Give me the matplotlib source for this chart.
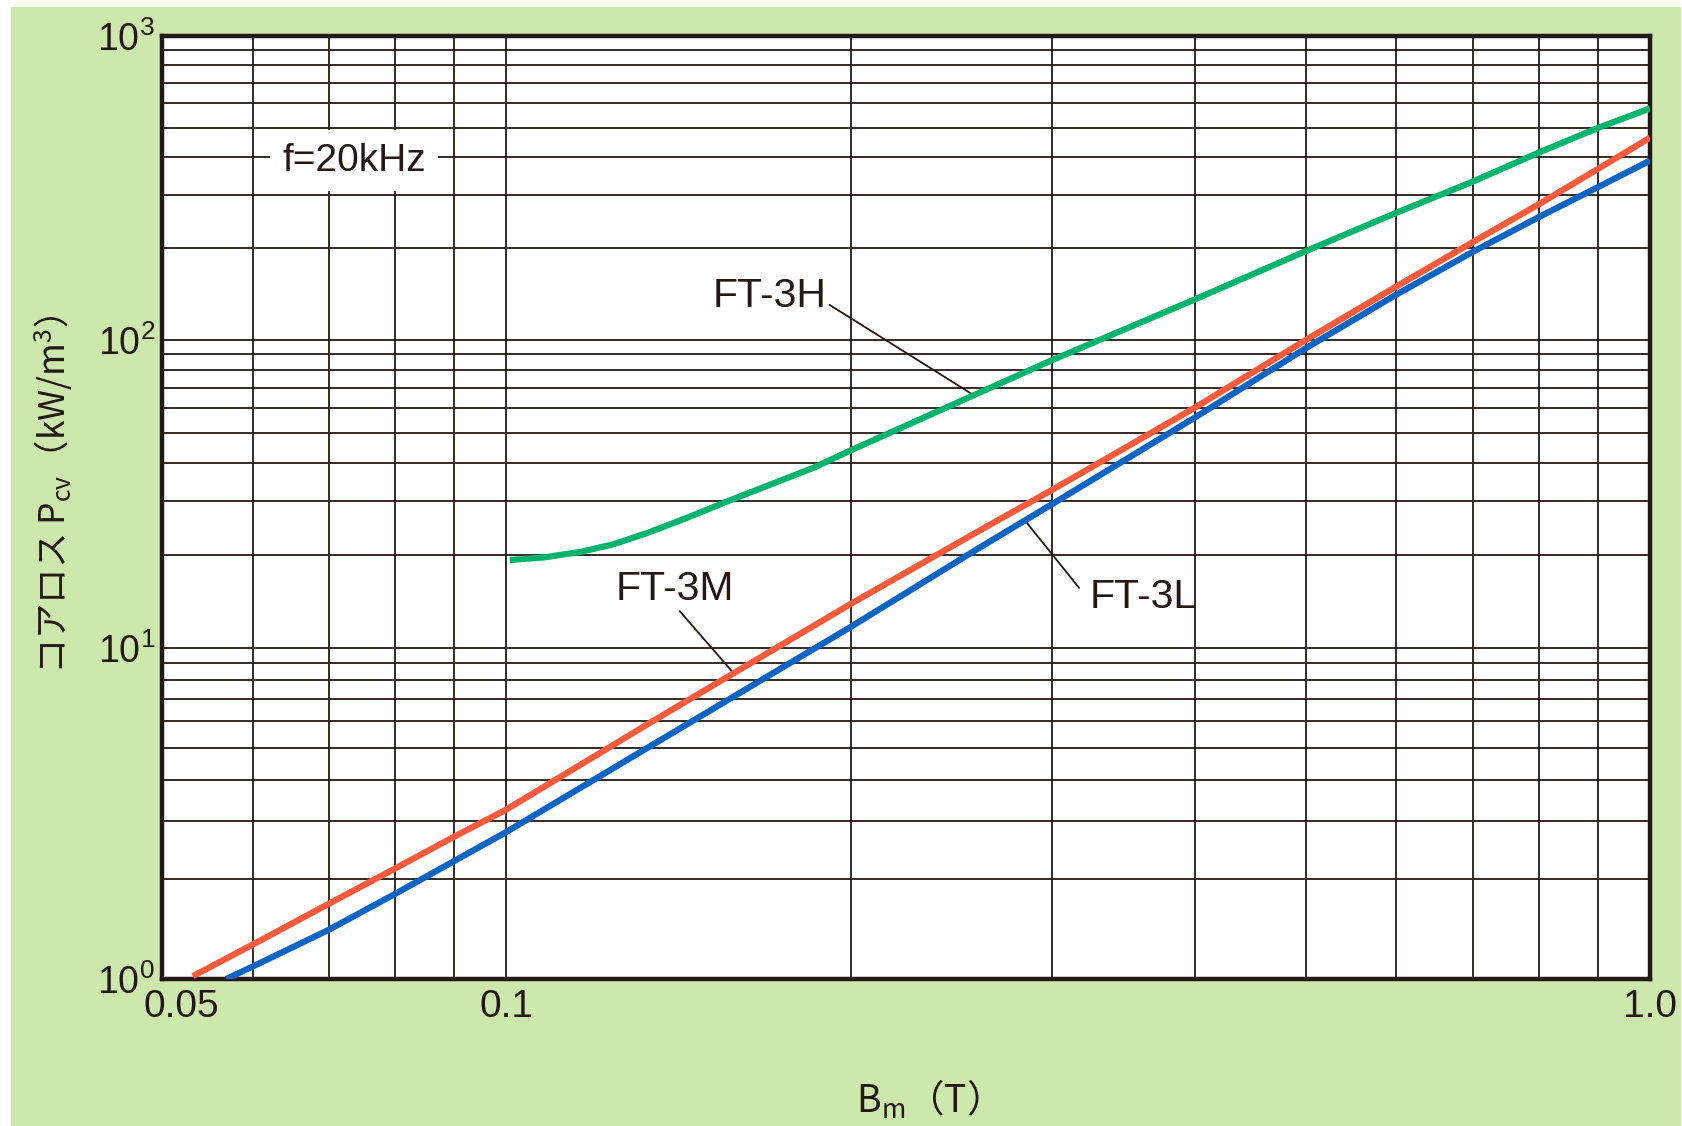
import numpy as np
import matplotlib
matplotlib.use("Agg")
import matplotlib.pyplot as plt
import matplotlib.transforms as mtransforms
from matplotlib.patches import Rectangle
from matplotlib.ticker import NullFormatter

# core loss vs flux density, f = 20 kHz
bm_3m = [0.0532, 0.06, 0.07, 0.08, 0.09, 0.1, 0.1336, 0.2, 0.26, 0.3, 0.4, 0.5, 0.6, 0.7, 0.8, 0.9, 1.0]
pcv_3m = [1.02, 1.27, 1.69, 2.16, 2.69, 3.25, 5.95, 13.9, 24.2, 32.6, 60.3, 100, 150, 210, 280, 365, 463]

bm_3l = [0.0569, 0.06, 0.07, 0.08, 0.09, 0.1, 0.1336, 0.2, 0.26, 0.3, 0.4, 0.5, 0.6, 0.7, 0.8, 0.9, 1.0]
pcv_3l = [1.0, 1.09, 1.41, 1.81, 2.27, 2.78, 5.05, 11.7, 21.3, 29.3, 56, 94, 141, 195, 254, 318, 389]

bm_3h = [0.1007, 0.108, 0.116, 0.124, 0.1327, 0.144, 0.157, 0.1857, 0.2, 0.3, 0.4, 0.5, 0.6, 0.7, 0.8, 0.9, 1.0]
pcv_3h = [19.3, 19.7, 20.5, 21.7, 23.6, 26.5, 30.2, 38.5, 43.8, 86, 136, 196, 262, 332, 414, 498, 578]

x_ticks = [0.05, 0.1, 1.0]
x_ticklabels = ["0.05", "0.1", "1.0"]
y_ticks = [1, 10, 100, 1000]
y_ticklabels = [r"$\mathregular{10^{0}}$", r"$\mathregular{10^{1}}$",
                r"$\mathregular{10^{2}}$", r"$\mathregular{10^{3}}$"]

INK = "#231815"
BG = "#cde8ad"

plt.rcParams["font.family"] = "Liberation Sans"
plt.rcParams["mathtext.fontset"] = "custom"
plt.rcParams["mathtext.rm"] = "Liberation Sans"
plt.rcParams["mathtext.it"] = "Liberation Sans:italic"
plt.rcParams["mathtext.bf"] = "Liberation Sans:bold"

# the printed chart has slightly uneven decades on the y axis (px per decade)
dec_pos = [0, 331, 639, 943]


def y_fwd(v):
    lv = np.log10(np.clip(np.asarray(v, float), 1e-12, None))
    out = np.interp(lv, [0, 1, 2, 3], dec_pos)
    out = np.where(lv < 0, lv * 331, out)
    out = np.where(lv > 3, 943 + (lv - 3) * 304, out)
    return out


def y_inv(p):
    p = np.asarray(p, float)
    lv = np.interp(p, dec_pos, [0, 1, 2, 3])
    lv = np.where(p < 0, p / 331, lv)
    lv = np.where(p > 943, 3 + (p - 943) / 304, lv)
    return 10 ** lv


fig = plt.figure(figsize=(16.83, 11.26), dpi=100, facecolor="white")
fig.patches.append(Rectangle((11 / 1683, 0), 1670 / 1683, 1 - 7 / 1126,
                             transform=fig.transFigure, fc=BG, ec="none", zorder=-10))

ax = fig.add_axes([162 / 1683, 1 - 979 / 1126, 1488 / 1683, 943 / 1126])
ax.set_facecolor("white")
ax.set_xscale("log")
ax.set_yscale("function", functions=(y_fwd, y_inv))
ax.set_xlim(0.05, 1.0)
ax.set_ylim(1, 1000)

# curves
ax.plot(bm_3h, pcv_3h, color="#00b46e", lw=4.5, solid_capstyle="butt", zorder=4)
ax.plot(bm_3m, pcv_3m, color="#ff5a3c", lw=4.5, solid_capstyle="butt", zorder=4)
ax.plot(bm_3l, pcv_3l, color="#0a64c3", lw=4.5, solid_capstyle="butt", zorder=4)

# ticks and grid
ax.set_xticks(x_ticks, x_ticklabels)
ax.set_xticks([0.06, 0.07, 0.08, 0.09] + [k / 10 for k in range(2, 10)], minor=True)
ax.xaxis.set_minor_formatter(NullFormatter())
ax.set_yticks(y_ticks, y_ticklabels)
ax.set_yticks([m * 10 ** k for k in range(3) for m in range(2, 10)], minor=True)
ax.yaxis.set_minor_formatter(NullFormatter())
ax.tick_params(which="both", length=0)
ax.tick_params(axis="x", labelsize=28, pad=7, colors=INK)
ax.tick_params(axis="y", labelsize=27, pad=5, colors=INK)
ax.grid(which="both", color=INK, lw=1.3)
for s in ax.spines.values():
    s.set_linewidth(3.2)
    s.set_color(INK)

# nudge "0.05" right so it clears the 10^0 label
lbl = ax.get_xticklabels()[0]
lbl.set_transform(lbl.get_transform() + mtransforms.ScaledTranslation(0.19, 0, fig.dpi_scale_trans))

# labels
ax.text(0.0736, 389, "f=20kHz", ha="center", va="center", fontsize=28, color=INK, zorder=3,
        bbox=dict(fc="white", ec="none", pad=9))

arrow = dict(arrowstyle="-", color=INK, lw=1.3, shrinkA=0, shrinkB=0)
ax.annotate("FT-3H", xy=(0.2566, 66), xytext=(0.170, 140), ha="center", va="center",
            fontsize=29.5, color=INK, arrowprops=dict(arrow, relpos=(1.0, 0.3)))
ax.annotate("FT-3M", xy=(0.158, 8.4), xytext=(0.1405, 15.5), ha="center", va="center",
            fontsize=29.5, color=INK, arrowprops=dict(arrow, relpos=(0.49, 0.1)))
ax.annotate("FT-3L", xy=(0.284, 26), xytext=(0.3606, 14.6), ha="center", va="center",
            fontsize=29.5, color=INK, arrowprops=dict(arrow, relpos=(-0.1, 0.75)))

fig.text(54 / 1683, 1 - 494 / 1126, r"コアロス P$_{\mathregular{cv}}$（kW/m$^{\mathregular{3}}$）",
         rotation=90, ha="center", va="center", fontsize=25.5, color=INK, family="Noto Sans CJK JP")
fig.text(918 / 1683, 1 - 1100 / 1126, r"B$_{\mathregular{m}}$（T）",
         ha="center", va="center", fontsize=27, color=INK, family="Noto Sans CJK JP")

fig.savefig("out.png", dpi=100, facecolor=fig.get_facecolor())
